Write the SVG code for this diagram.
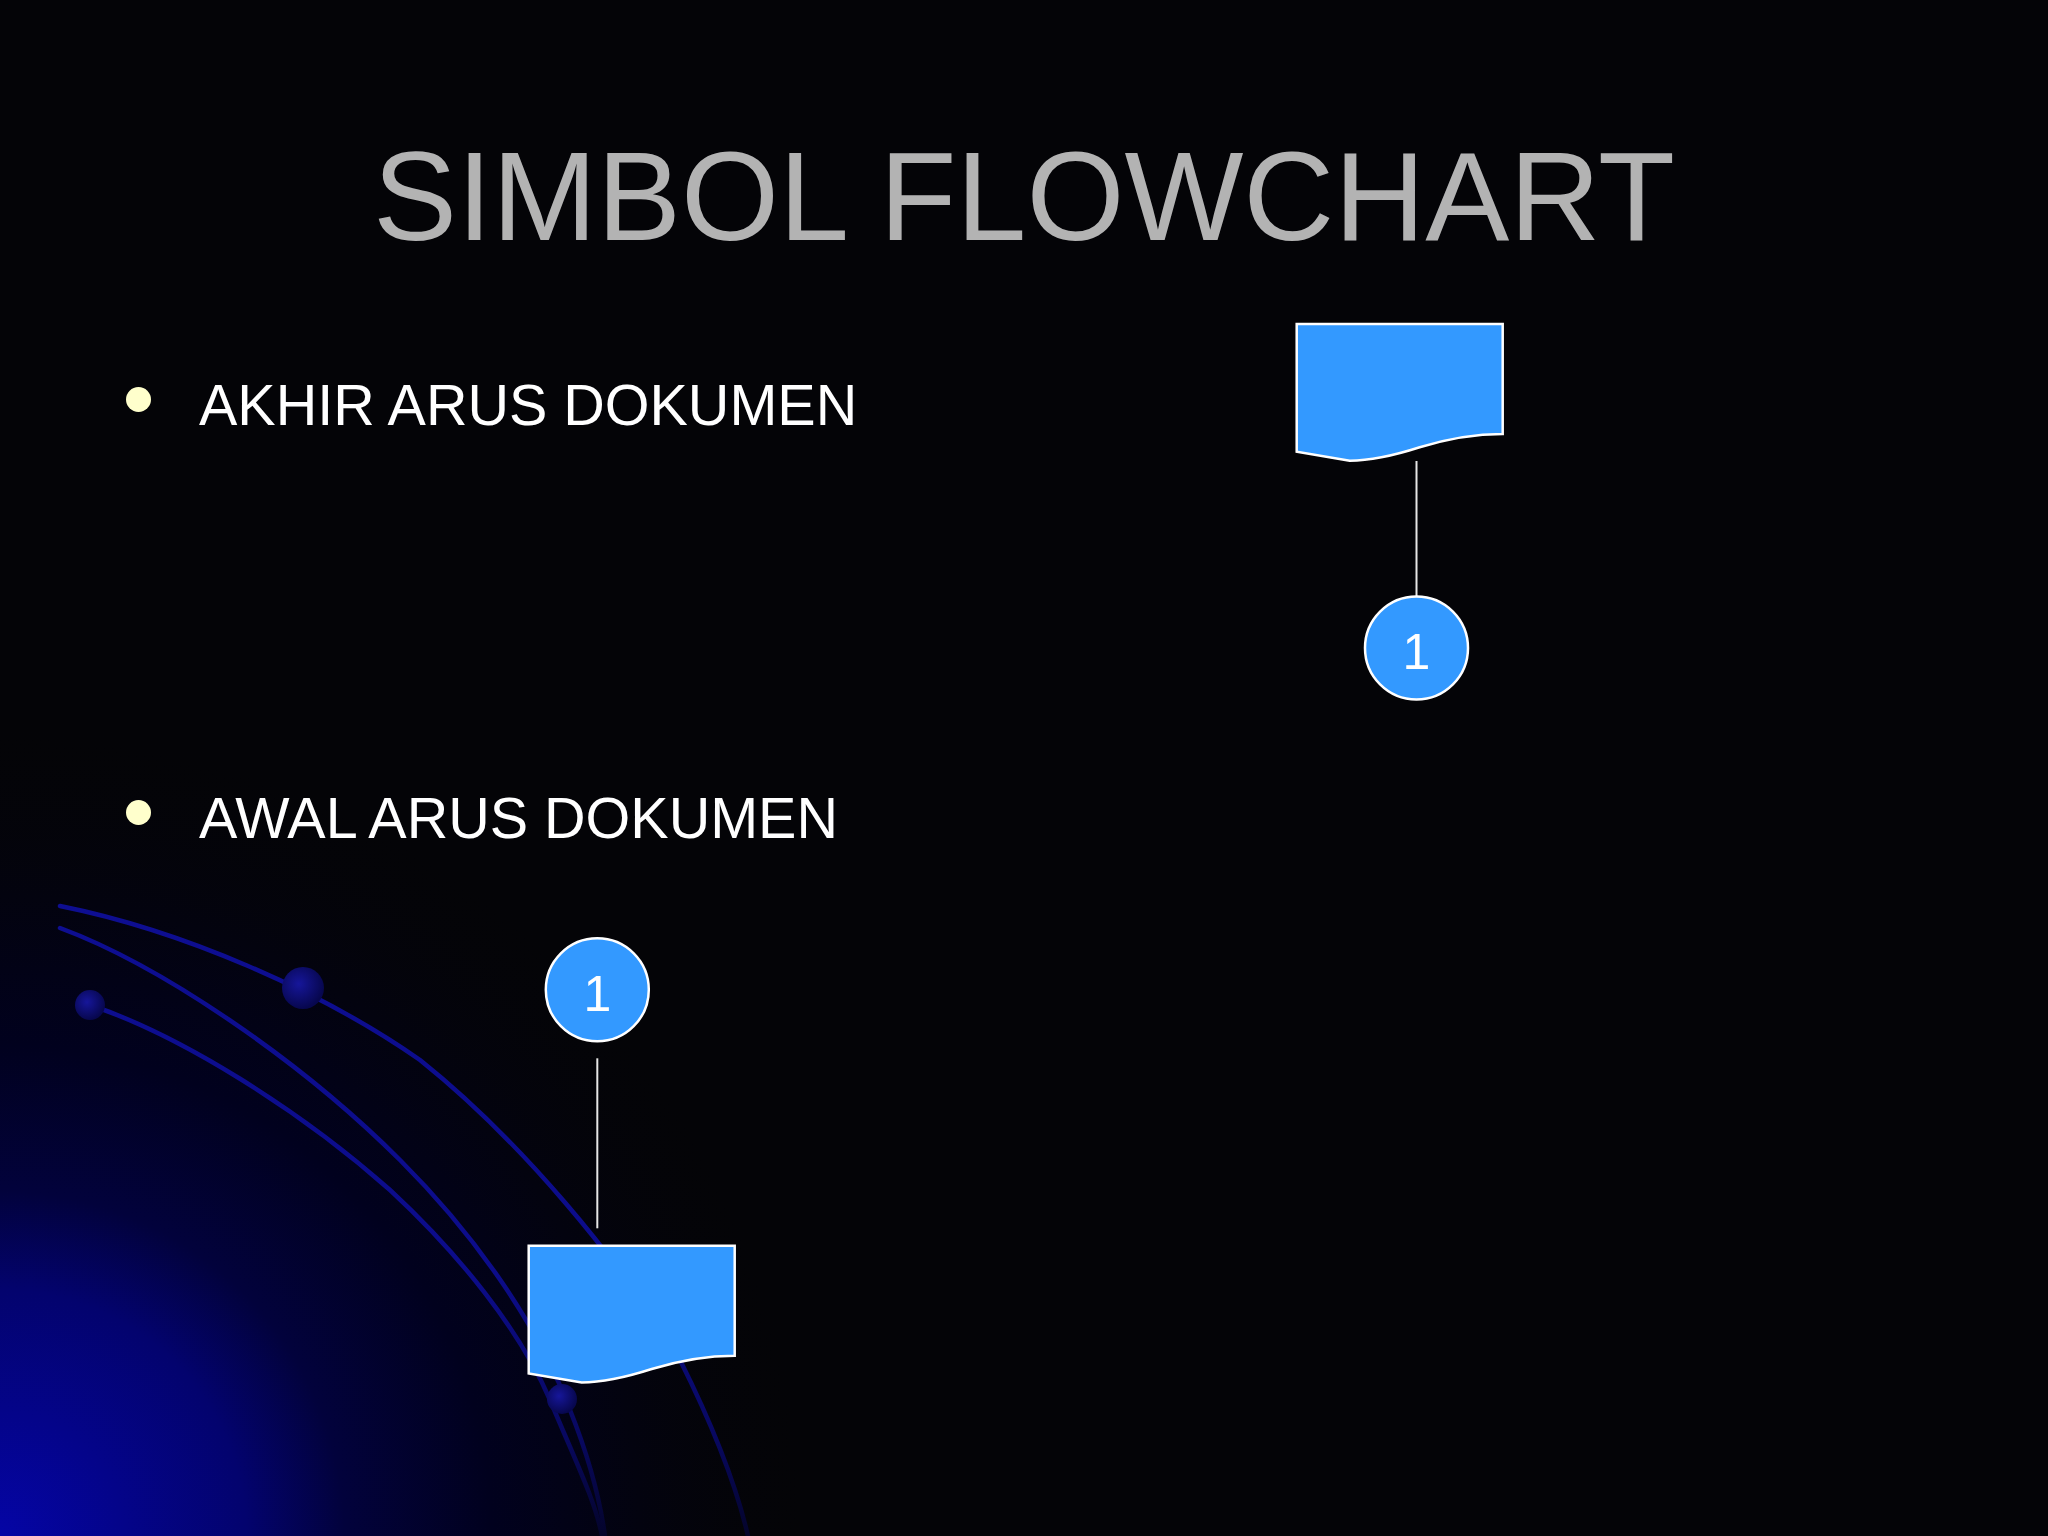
<svg xmlns="http://www.w3.org/2000/svg" width="2048" height="1536" viewBox="0 0 2048 1536">
  <defs>
    <style>
      .title { font-family: "Liberation Sans", Arial, sans-serif; font-size: 126px; fill: #b3b3b3; }
      .item { font-family: "Liberation Sans", Arial, sans-serif; font-size: 57.5px; fill: #ffffff; }
      .num { font-family: "Liberation Sans", Arial, sans-serif; font-size: 50px; fill: #ffffff; text-anchor: middle; }
      .bullet { fill: #ffffcc; }
      .shape { fill: #3399ff; stroke: #ffffff; stroke-width: 2.5; }
      .conn { stroke: #e6e6e6; stroke-width: 2; fill: none; }
      .orbit { fill: none; stroke: url(#orbitFade); stroke-width: 4.5; stroke-linecap: round; }
    </style>
    <radialGradient id="glow" cx="0" cy="1536" r="820" gradientUnits="userSpaceOnUse">
      <stop offset="0" stop-color="#0505a5"/>
      <stop offset="0.3" stop-color="#03036e"/>
      <stop offset="0.42" stop-color="#02023c"/>
      <stop offset="0.6" stop-color="#01011e"/>
      <stop offset="0.78" stop-color="#03030f"/>
      <stop offset="1" stop-color="#040407" stop-opacity="0"/>
    </radialGradient>
    <linearGradient id="orbitFade" x1="0" y1="880" x2="0" y2="1536" gradientUnits="userSpaceOnUse">
      <stop offset="0" stop-color="#0e0e92"/>
      <stop offset="0.6" stop-color="#0c0c8a"/>
      <stop offset="0.85" stop-color="#080860"/>
      <stop offset="1" stop-color="#04042a"/>
    </linearGradient>
    <radialGradient id="sphere" cx="0.4" cy="0.4" r="0.6">
      <stop offset="0" stop-color="#16169a"/>
      <stop offset="1" stop-color="#07074e"/>
    </radialGradient>
    <path id="doc" d="M0,0 H206 V110 C175,110 150,115 123,123.3 C96,132 75,136.7 53,136.7 L0,127.7 Z"/>
  </defs>

  <g id="background">
    <rect x="0" y="0" width="2048" height="1536" fill="#040407"/>
    <rect x="0" y="0" width="2048" height="1536" fill="url(#glow)"/>
    <path class="orbit" d="M60,906 C180,930 320,990 420,1060 C520,1140 620,1260 680,1360 C710,1420 735,1480 748,1536"/>
    <path class="orbit" d="M60,928 C160,965 300,1060 400,1160 C480,1240 540,1330 570,1410 C590,1460 600,1500 605,1536"/>
    <path class="orbit" d="M90,1005 C180,1035 300,1110 390,1190 C460,1255 520,1330 550,1400 C575,1460 595,1500 602,1536"/>
    <circle cx="90" cy="1005" r="15" fill="url(#sphere)"/>
    <circle cx="303" cy="988" r="21" fill="url(#sphere)"/>
    <circle cx="562" cy="1399" r="15" fill="url(#sphere)"/>
  </g>

  <g id="title">
    <text class="title" x="1024" y="240" text-anchor="middle">SIMBOL FLOWCHART</text>
  </g>

  <g id="bullet-akhir">
    <ellipse class="bullet" cx="138.5" cy="399.5" rx="12.5" ry="12.5"/>
    <text class="item" x="199" y="425">AKHIR ARUS DOKUMEN</text>
  </g>
  <g id="bullet-awal">
    <ellipse class="bullet" cx="138.5" cy="812.5" rx="12.5" ry="12.5"/>
    <text class="item" x="199" y="837.5">AWAL ARUS DOKUMEN</text>
  </g>

  <g id="connectors">
    <line class="conn" x1="1416.5" y1="461" x2="1416.5" y2="596"/>
    <line class="conn" x1="597.3" y1="1058.3" x2="597.3" y2="1228.3"/>
  </g>

  <g id="doc-end">
    <use href="#doc" class="shape" x="1296.7" y="324"/>
  </g>
  <g id="connector-end">
    <circle class="shape" cx="1416.5" cy="648" r="51.5"/>
    <text class="num" x="1416.5" y="669">1</text>
  </g>

  <g id="connector-start">
    <circle class="shape" cx="597.3" cy="989.7" r="51.5"/>
    <text class="num" x="597.3" y="1010.5">1</text>
  </g>
  <g id="doc-start">
    <use href="#doc" class="shape" x="528.7" y="1245.7"/>
  </g>
</svg>
